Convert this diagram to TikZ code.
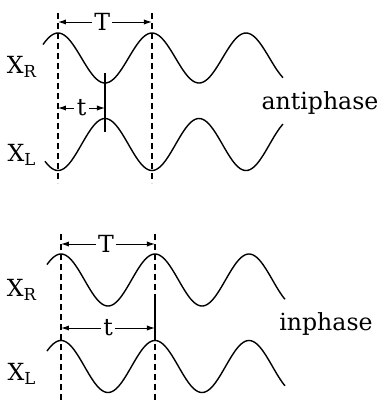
\documentclass[tikz,border=0pt]{standalone}
\usepackage{fontspec}
\setmainfont{DejaVu Serif}
\usepackage{tikz}
\usetikzlibrary{arrows.meta}
\newcommand{\chan}[1]{X\textsubscript{#1}}

\tikzset{
  wave/.style={line width=0.7pt,smooth,samples=150},
  guide/.style={line width=0.55pt,dash pattern=on 3pt off 2pt},
  dimline/.style={{Latex[length=4pt,width=2.6pt]}-{Latex[length=4pt,width=2.6pt]},line width=0.5pt},
  dimlabel/.style={fill=white,inner sep=1.2pt}
}

\begin{document}
\begin{tikzpicture}[x=0.5pt,y=-0.5pt,font=\fontsize{11.8}{13}\selectfont]
  \useasboundingbox (0,0) rectangle (384,404);
  % antiphase
  \coordinate (aL top) at (58,13);  \coordinate (aL bot) at (58,183);
  \coordinate (aR top) at (152,13); \coordinate (aR bot) at (152,183);
  \draw[guide] (aL top) -- (aL bot);
  \draw[guide] (aR top) -- (aR bot);
  \draw[wave] plot[domain=43:283] (\x,{58-25*cos(3.8298*(\x-58))});
  \draw[wave] plot[domain=45:283] (\x,{144.5+26*cos(3.8298*(\x-58))});
  \coordinate (aMin) at (105,73); \coordinate (aMax) at (105,132);
  \draw[line width=0.7pt] (aMin) -- (aMax);
  \coordinate (aT1) at (58,22);  \coordinate (aT2) at (152,22);
  \draw[dimline] (aT1) -- node[dimlabel,pos=0.47] (aTlab) {T} (aT2);
  \coordinate (at1) at (58,108); \coordinate (at2) at (105,108);
  \draw[dimline] (at1) -- node[dimlabel] (atlab) {t} (at2);
  \node (aXR) at (22,67) {\chan{R}};
  \node (aXL) at (22,155) {\chan{L}};
  \node (anti) at (320,103) {antiphase};
  % inphase
  \coordinate (iL top) at (61,234);  \coordinate (iL bot) at (61,404);
  \coordinate (iR top) at (155,234); \coordinate (iR bot) at (155,404);
  \draw[guide] (iL top) -- (iL bot);
  \draw[guide] (iR top) -- (iR bot);
  \draw[wave] plot[domain=47:285] (\x,{280-26*cos(3.8298*(\x-61))});
  \draw[wave] plot[domain=47:285] (\x,{366.5-26*cos(3.8298*(\x-61))});
  \coordinate (iTop) at (155,299); \coordinate (iBot) at (155,334);
  \draw[line width=0.7pt] (iTop) -- (iBot);
  \coordinate (iT1) at (61,244);  \coordinate (iT2) at (155,244);
  \draw[dimline] (iT1) -- node[dimlabel,pos=0.48] (iTlab) {T} (iT2);
  \coordinate (it1) at (61,328); \coordinate (it2) at (155,328);
  \draw[dimline] (it1) -- node[dimlabel,pos=0.5] (itlab) {t} (it2);
  \node (iXR) at (22,290) {\chan{R}};
  \node (iXL) at (22,374) {\chan{L}};
  \node (inph) at (326,324) {inphase};
\end{tikzpicture}
\end{document}
